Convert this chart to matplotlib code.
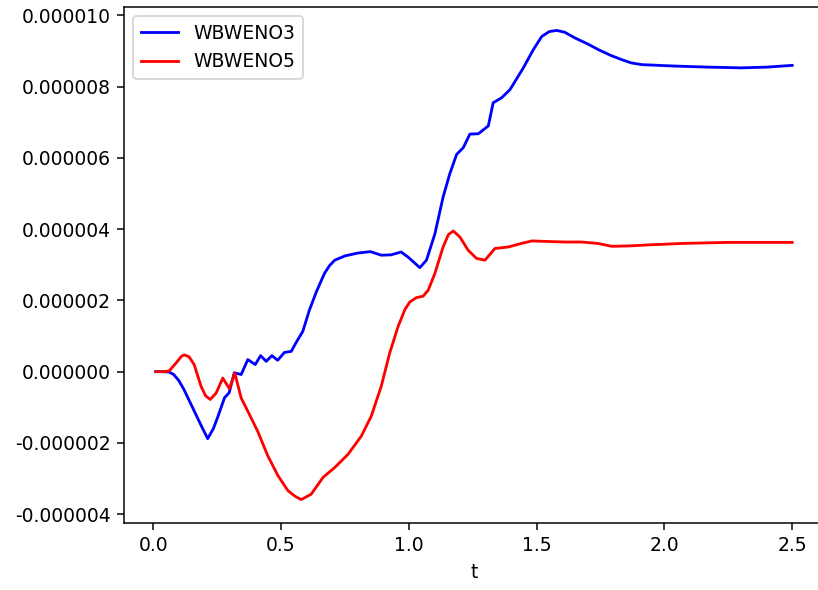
import matplotlib
matplotlib.use("Agg")
import matplotlib.pyplot as plt
from matplotlib.ticker import FormatStrFormatter

# error history for the two schemes
t_weno3 = [0.01, 0.04, 0.062, 0.08, 0.10, 0.12, 0.14, 0.16, 0.19, 0.213, 0.235, 0.252, 0.279,
           0.297, 0.317, 0.344, 0.37, 0.399, 0.42, 0.442, 0.464, 0.487, 0.513,
           0.54, 0.559, 0.585, 0.611, 0.638, 0.67, 0.69, 0.71, 0.75, 0.80, 0.85, 0.892,
           0.93, 0.97, 1.00, 1.043, 1.069, 1.102, 1.134, 1.16, 1.187, 1.213,
           1.239, 1.272, 1.311, 1.33, 1.363, 1.396, 1.448, 1.487, 1.52, 1.55,
           1.579, 1.61, 1.65, 1.70, 1.742, 1.79, 1.833, 1.87, 1.912, 2.042, 2.173, 2.30, 2.40, 2.5]
e_weno3 = [0.0, 0.0, -0.01, -0.08, -0.25, -0.5, -0.8, -1.1, -1.55, -1.88, -1.6, -1.28, -0.73,
           -0.59, -0.03, -0.08, 0.34, 0.2, 0.45, 0.29, 0.45, 0.32, 0.54,
           0.57, 0.82, 1.13, 1.73, 2.24, 2.76, 2.98, 3.13, 3.25, 3.33, 3.37, 3.27,
           3.28, 3.36, 3.2, 2.92, 3.13, 3.87, 4.9, 5.55, 6.1, 6.29,
           6.67, 6.68, 6.9, 7.55, 7.69, 7.92, 8.53, 9.04, 9.41, 9.55,
           9.58, 9.53, 9.37, 9.2, 9.04, 8.88, 8.76, 8.67, 8.62, 8.58, 8.55, 8.53, 8.55, 8.6]

t_weno5 = [0.01, 0.04, 0.062, 0.09, 0.11, 0.121, 0.14, 0.16, 0.187, 0.205, 0.223, 0.246, 0.272,
           0.298, 0.319, 0.344, 0.37, 0.409, 0.448, 0.488, 0.527, 0.555, 0.579,
           0.618, 0.664, 0.71, 0.762, 0.814, 0.853, 0.892, 0.925, 0.958, 0.985,
           1.004, 1.03, 1.056, 1.076, 1.102, 1.134, 1.155, 1.174, 1.2, 1.232,
           1.265, 1.298, 1.337, 1.389, 1.44, 1.481, 1.611, 1.677, 1.74, 1.794, 1.86, 1.938, 2.069,
           2.25, 2.5]
e_weno5 = [0.0, 0.0, 0.02, 0.25, 0.43, 0.47, 0.42, 0.2, -0.41, -0.68, -0.78, -0.6, -0.18,
           -0.48, -0.04, -0.74, -1.11, -1.68, -2.36, -2.92, -3.34, -3.5, -3.59,
           -3.44, -2.97, -2.69, -2.32, -1.81, -1.25, -0.41, 0.52, 1.27, 1.75,
           1.96, 2.08, 2.12, 2.29, 2.76, 3.5, 3.85, 3.95, 3.78, 3.41,
           3.18, 3.13, 3.46, 3.5, 3.6, 3.67, 3.64, 3.64, 3.6, 3.52, 3.53, 3.56, 3.6,
           3.63, 3.63]

scale = 1e-6

fig = plt.figure(figsize=(818 / 135, 590 / 135), dpi=135)
ax = fig.add_axes([124 / 818, 67 / 590, 700 / 818, 516 / 590])

ax.plot(t_weno3, [v * scale for v in e_weno3], color="blue", label="WBWENO3")
ax.plot(t_weno5, [v * scale for v in e_weno5], color="red", label="WBWENO5")

ax.yaxis.set_major_formatter(FormatStrFormatter("%.6f"))
ax.set_xlabel("t")
ax.legend(loc="upper left")
# right edge of the frame falls past the canvas
ax.spines["right"].set_visible(False)

fig.savefig("out.png", dpi=135)
